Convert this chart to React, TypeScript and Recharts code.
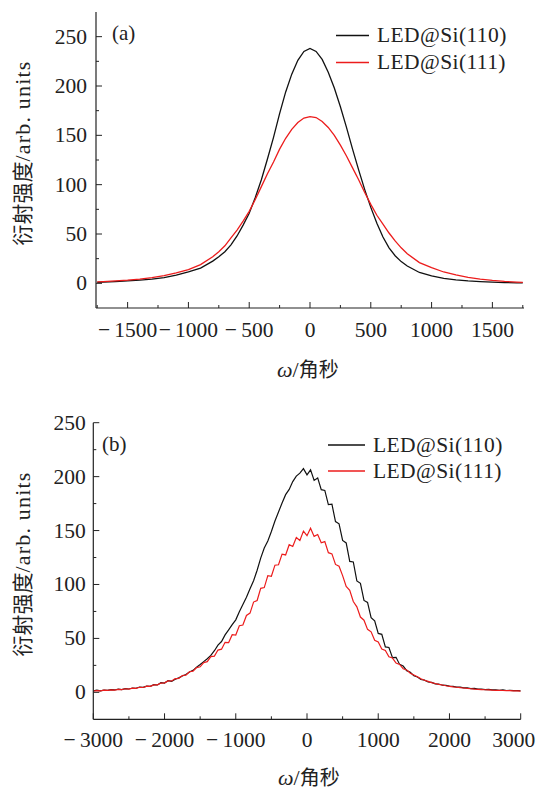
import React from 'react';
import { LineChart, Line, XAxis, YAxis, Legend } from 'recharts';

// (a) omega in arcsec and the two rocking curves
const omegaA = [
  -1750, -1700, -1600, -1500, -1400, -1300, -1200, -1100, -1000, -900, -800,
  -750, -700, -650, -600, -550, -500, -450, -400, -350, -300, -250, -200, -150, -100, -50,
  0, 50, 100, 150, 200, 250, 300, 350, 400, 450, 500, 550, 600, 650, 700, 750,
  800, 900, 1000, 1100, 1200, 1300, 1400, 1500, 1600, 1700, 1750,
];
const intensityA110 = [
  1.0, 1.2, 1.8, 2.5, 3.3, 4.3, 5.8, 8.3, 11.5, 15.5, 22.5,
  27, 32, 39, 48, 59, 71, 87, 105, 126, 148, 172, 194, 212, 226, 235,
  238, 235, 227, 214, 198, 179, 158, 136, 115, 95, 77, 61, 47, 36, 28, 22,
  17.5, 11, 7.5, 5, 3.5, 2.5, 1.8, 1.2, 0.8, 0.5, 0.4,
];
const intensityA111 = [
  1.5, 1.8, 2.4, 3.2, 4.3, 5.8, 7.8, 10.5, 14, 19, 27,
  32, 38, 46, 54, 63, 73, 85, 98, 111, 123, 136, 147, 156, 163, 167.5,
  169, 168, 164, 158, 150, 140, 129, 117, 105, 92, 80, 69, 60, 51, 43, 36,
  30, 21, 16, 11.5, 8.5, 6, 4.3, 3, 2, 1.3, 1,
];

// (b) noisier scans
const omegaB = [
  -3000, -2950, -2900, -2850, -2800, -2750, -2700, -2650, -2600, -2550,
  -2500, -2450, -2400, -2350, -2300, -2250, -2200, -2150, -2100, -2050,
  -2000, -1950, -1900, -1850, -1800, -1750, -1700, -1650, -1600, -1550,
  -1500, -1450, -1400, -1350, -1300, -1250, -1200, -1150, -1100, -1050,
  -1000, -950, -900, -850, -800, -750, -700, -650, -600, -550,
  -500, -450, -400, -350, -300, -250, -200, -150, -100, -50,
  0, 50, 100, 150, 200, 250, 300, 350, 400, 450,
  500, 550, 600, 650, 700, 750, 800, 850, 900, 950,
  1000, 1050, 1100, 1150, 1200, 1250, 1300, 1350, 1400, 1450,
  1500, 1550, 1600, 1650, 1700, 1750, 1800, 1850, 1900, 1950,
  2000, 2050, 2100, 2150, 2200, 2250, 2300, 2350, 2400, 2450,
  2500, 2550, 2600, 2650, 2700, 2750, 2800, 2850, 2900, 2950,
  3000,
];
const intensityB110 = [
  1.5, 2.0, 1.4, 2.1, 1.9, 2.5, 2.2, 2.9, 2.6, 3.4,
  3.1, 4.0, 3.8, 4.9, 4.6, 5.8, 5.6, 7.1, 6.8, 8.9,
  8.6, 10.9, 10.2, 12.1, 13.4, 15.2, 16.6, 18.8, 20.4, 23.3,
  25.8, 28.5, 31.1, 34.2, 38.6, 43.8, 47.1, 53.3, 57.9, 62.7,
  67.2, 74.8, 81.5, 88.2, 96.0, 103.5, 113.2, 124.4, 133.8, 140.3,
  149.1, 158.9, 167.2, 175.6, 183.3, 188.1, 195.4, 200.5, 203.2, 207.4,
  201.7, 206.3, 196.5, 198.8, 187.9, 187.2, 174.1, 174.4, 158.3, 156.2,
  140.8, 138.5, 121.4, 120.9, 103.3, 101.1, 85.2, 83.4, 69.3, 66.2,
  54.6, 53.8, 42.1, 41.6, 32.2, 32.5, 25.9, 24.4, 20.1, 18.6,
  15.4, 14.2, 11.9, 11.3, 9.6, 9.2, 7.9, 7.7, 6.6, 6.5,
  5.7, 5.6, 4.8, 4.8, 4.1, 4.2, 3.5, 3.6, 2.9, 3.1,
  2.5, 2.7, 2.2, 2.4, 1.9, 2.2, 1.7, 1.9, 1.5, 1.7,
  1.4,
];
const intensityB111 = [
  1.2, 1.6, 1.3, 2.0, 1.8, 2.3, 2.1, 2.8, 2.5, 3.3,
  3.0, 3.9, 3.7, 4.7, 4.5, 5.7, 5.5, 6.9, 6.9, 8.6,
  8.8, 10.6, 10.5, 12.8, 12.9, 15.6, 16.0, 19.1, 19.6, 22.9,
  23.7, 27.6, 28.4, 33.1, 33.6, 39.2, 40.0, 46.4, 46.2, 53.5,
  53.1, 61.8, 62.4, 71.3, 73.5, 83.7, 85.2, 96.4, 97.1, 108.2,
  107.6, 117.9, 118.3, 128.1, 127.4, 136.9, 135.2, 143.6, 140.8, 149.5,
  145.2, 152.1, 144.6, 146.3, 138.7, 139.8, 129.5, 128.4, 118.6, 116.9,
  108.2, 98.1, 94.6, 84.2, 79.3, 69.8, 66.9, 58.4, 56.1, 48.2,
  46.8, 40.1, 38.9, 33.0, 31.8, 27.2, 25.9, 21.9, 20.8, 17.7,
  16.1, 14.4, 12.6, 11.2, 10.1, 9.0, 8.2, 7.4, 6.8, 6.1,
  5.6, 5.1, 4.7, 4.3, 4.0, 3.6, 3.3, 3.0, 2.8, 2.6,
  2.4, 2.2, 2.0, 1.9, 1.8, 1.7, 1.6, 1.5, 1.4, 1.3,
  1.2,
];

const seriesNames = ['LED@Si(110)', 'LED@Si(111)'];

const xMajorA = [-1500, -1000, -500, 0, 500, 1000, 1500];
const xMinorA = [-1750, -1250, -750, -250, 250, 750, 1250, 1750];
const yMajorA = [0, 50, 100, 150, 200, 250];
const yMinorA = [25, 75, 125, 175, 225];

const xMajorB = [-3000, -2000, -1000, 0, 1000, 2000, 3000];
const xMinorB = [-2500, -1500, -500, 500, 1500, 2500];
const yMajorB = [0, 50, 100, 150, 200, 250];
const yMinorB = [25, 75, 125, 175, 225];

const SERIF = '"Liberation Serif", "Times New Roman", serif';
const CJK = '"Noto Sans CJK SC", sans-serif';
const INK = '#222';
const BLACK = '#111';
const RED = '#ec1c1c';

const fmt = (v: number) => (v < 0 ? `\u2212\u2009${Math.abs(v)}` : `${v}`);

type Side = 'bottom' | 'top' | 'left' | 'right';

// inward ticks, long for majors, short for minors; labels only on bottom/left
const makeTick = (side: Side, majors: number[], labelDist: number, lastShift = 0) => (props: any) => {
  const { x, y, payload } = props;
  const v = payload.value;
  const major = majors.includes(v);
  const len = major ? 6 : 3;
  let x2 = x;
  let y2 = y;
  if (side === 'bottom') y2 = y - len;
  if (side === 'top') y2 = y + len;
  if (side === 'left') x2 = x + len;
  if (side === 'right') x2 = x - len;
  // the right-most label is nudged in so it stays on the page
  const dx = v === majors[majors.length - 1] ? lastShift : 0;
  return (
    <g>
      <line x1={x} y1={y} x2={x2} y2={y2} stroke={INK} strokeWidth={1} />
      {major && side === 'bottom' && (
        <text x={x + dx} y={y + labelDist} textAnchor="middle" fontFamily={SERIF} fontSize={21.5} fill={INK}>
          {fmt(v)}
        </text>
      )}
      {major && side === 'left' && (
        <text x={x - labelDist} y={y + 7} textAnchor="end" fontFamily={SERIF} fontSize={21.5} fill={INK}>
          {fmt(v)}
        </text>
      )}
    </g>
  );
};

const LegendBox = ({ payload, lineW, rowH }: any) => (
  <div style={{ fontFamily: SERIF, fontSize: 21.5, color: INK, lineHeight: `${rowH}px` }}>
    {(payload || []).map((p: any) => (
      <div key={p.value} style={{ display: 'flex', alignItems: 'center', height: rowH }}>
        <svg width={lineW} height={rowH}>
          <line x1={0} x2={lineW} y1={rowH / 2} y2={rowH / 2} stroke={p.color} strokeWidth={1.3} />
        </svg>
        <span style={{ marginLeft: 8, whiteSpace: 'nowrap', letterSpacing: 0.4 }}>{p.value}</span>
      </div>
    ))}
  </div>
);

const YTitle = ({ left, top }: { left: number; top: number }) => (
  <div
    style={{
      position: 'absolute', left, top, transform: 'translate(-50%, -50%) rotate(-90deg)',
      whiteSpace: 'nowrap', color: INK, lineHeight: 1,
    }}
  >
    <span style={{ fontFamily: CJK, fontSize: 21 }}>衍射强度</span>
    <span style={{ fontFamily: SERIF, fontSize: 22, letterSpacing: 1.2 }}>/arb. units</span>
  </div>
);

const XTitle = ({ left, top }: { left: number; top: number }) => (
  <div style={{ position: 'absolute', left, top, whiteSpace: 'nowrap', color: INK, lineHeight: 1 }}>
    <span style={{ fontFamily: SERIF, fontSize: 22, fontStyle: 'italic' }}>ω</span>
    <span style={{ fontFamily: SERIF, fontSize: 22 }}>/</span>
    <span style={{ fontFamily: CJK, fontSize: 20 }}>角秒</span>
  </div>
);

const Panel = ({
  top, height, omega, s110, s111, xDomain, yDomain, xMajor, xMinor, yMajor, yMinor,
  margin, yWidth, xHeight, xLabelDist, yLabelDist, lastShift, legendPos, lineW, rowH, strokeW, tag, tagPos,
}: any) => {
  const rows = omega.map((w: number, i: number) => ({ omega: w, s110: s110[i], s111: s111[i] }));
  const xt = [...xMajor, ...xMinor].sort((a, b) => a - b);
  const yt = [...yMajor, ...yMinor].sort((a, b) => a - b);
  return (
    <div style={{ position: 'absolute', left: 0, top, width: 540, height }}>
      <LineChart width={540} height={height} data={rows} margin={margin}>
        <XAxis
          xAxisId="b" dataKey="omega" type="number" domain={xDomain} ticks={xt} interval={0}
          allowDataOverflow height={xHeight} tickSize={0} tickMargin={0} tickLine={false}
          axisLine={{ stroke: INK, strokeWidth: 1.2 }} tick={makeTick('bottom', xMajor, xLabelDist, lastShift)}
        />
        <XAxis
          xAxisId="t" orientation="top" dataKey="omega" type="number" domain={xDomain} ticks={xt}
          interval={0} allowDataOverflow height={0} tickSize={0} tickMargin={0} tickLine={false}
          axisLine={{ stroke: INK, strokeWidth: 1.2 }} tick={makeTick('top', xMajor, 0)}
        />
        <YAxis
          yAxisId="l" type="number" domain={yDomain} ticks={yt} interval={0} allowDataOverflow
          width={yWidth} tickSize={0} tickMargin={0} tickLine={false}
          axisLine={{ stroke: INK, strokeWidth: 1.2 }} tick={makeTick('left', yMajor, yLabelDist)}
        />
        <YAxis
          yAxisId="r" orientation="right" type="number" domain={yDomain} ticks={yt} interval={0}
          allowDataOverflow width={0} tickSize={0} tickMargin={0} tickLine={false}
          axisLine={{ stroke: INK, strokeWidth: 1.2 }} tick={makeTick('right', yMajor, 0)}
        />
        <Legend
          layout="vertical" align="center" verticalAlign="middle"
          wrapperStyle={{ left: legendPos[0], top: legendPos[1], width: 'auto' }}
          content={(p: any) => <LegendBox payload={p.payload} lineW={lineW} rowH={rowH} />}
        />
        <Line
          xAxisId="b" yAxisId="l" type="linear" dataKey="s110" name={seriesNames[0]} stroke={BLACK}
          strokeWidth={strokeW} dot={false} activeDot={false} isAnimationActive={false}
        />
        <Line
          xAxisId="b" yAxisId="l" type="linear" dataKey="s111" name={seriesNames[1]} stroke={RED}
          strokeWidth={strokeW} dot={false} activeDot={false} isAnimationActive={false}
        />
      </LineChart>
      <div
        style={{
          position: 'absolute', left: tagPos[0], top: tagPos[1], fontFamily: SERIF, fontSize: 21,
          color: INK, lineHeight: 1,
        }}
      >
        {tag}
      </div>
    </div>
  );
};

export default function App() {
  return (
    <div style={{ position: 'absolute', left: 0, top: 0, width: 540, height: 790, background: '#fff' }}>
      <Panel
        top={0} height={395} omega={omegaA} s110={intensityA110} s111={intensityA111}
        xDomain={[-1760, 1760]} yDomain={[-25, 275]} xMajor={xMajorA} xMinor={xMinorA}
        yMajor={yMajorA} yMinor={yMinorA} margin={{ top: 12, right: 16, bottom: 0, left: 0 }}
        yWidth={96} xHeight={87} xLabelDist={29} yLabelDist={9} lastShift={0} legendPos={[336, 21.5]}
        lineW={33} rowH={27} strokeW={1.3} tag="(a)" tagPos={[112, 23]}
      />
      <Panel
        top={400} height={390} omega={omegaB} s110={intensityB110} s111={intensityB111}
        xDomain={[-3000, 3000]} yDomain={[-25, 250]} xMajor={xMajorB} xMinor={xMinorB}
        yMajor={yMajorB} yMinor={yMinorB} margin={{ top: 22.7, right: 19.3, bottom: 0, left: 0 }}
        yWidth={93.3} xHeight={70.7} xLabelDist={28} yLabelDist={7.5} lastShift={-7} legendPos={[328, 32]}
        lineW={37} rowH={26} strokeW={1.2} tag="(b)" tagPos={[102, 34]}
      />
      <YTitle left={22} top={153} />
      <XTitle left={277} top={359} />
      <YTitle left={22} top={564} />
      <XTitle left={278} top={767} />
    </div>
  );
}
